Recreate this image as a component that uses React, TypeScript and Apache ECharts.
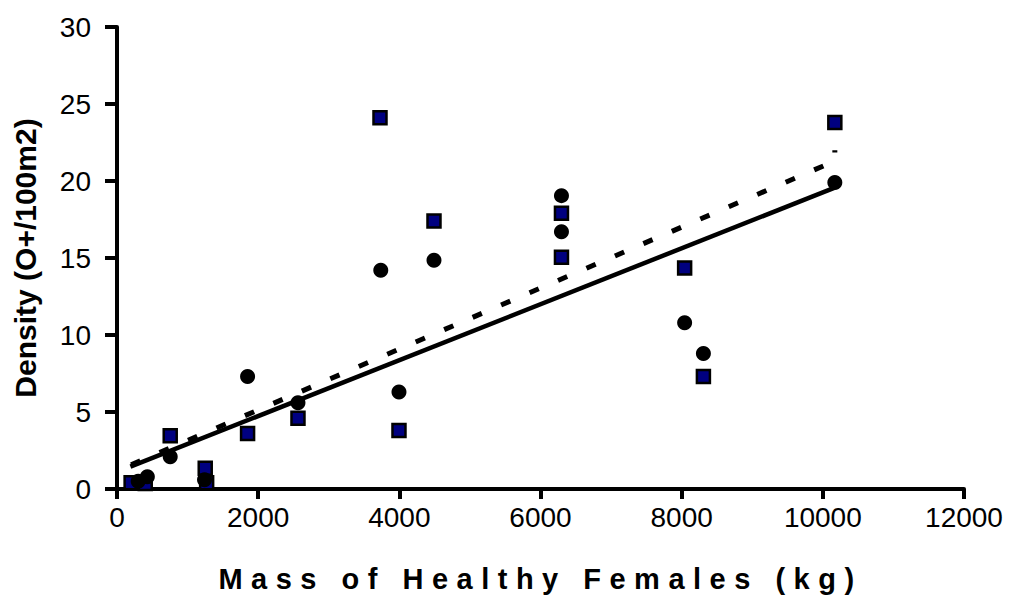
import React, { useEffect, useRef } from "react";
import * as echarts from "echarts";

const circleX = [300, 430, 754, 1240, 1850, 2564, 3737, 3995, 4491, 6297, 6297, 8042, 8308, 10170];
const circleY = [0.5, 0.8, 2.1, 0.6, 7.3, 5.6, 14.2, 6.3, 14.85, 19.05, 16.7, 10.8, 8.8, 19.9];

const squareX = [200, 400, 754, 1250, 1270, 1850, 2564, 3726, 3995, 4491, 6297, 6297, 8042, 8308, 10170];
const squareY = [0.4, 0.35, 3.45, 1.35, 0.4, 3.6, 4.6, 24.1, 3.8, 17.4, 17.9, 15.05, 14.35, 7.3, 23.8];

const solidTrendX = [190, 10170];
const solidTrendY = [1.45, 19.57];

const dashedTrendX = [200, 10170, 10170];
const dashedTrendY = [1.57, 21.3, 22.0];

const xTicks = [0, 2000, 4000, 6000, 8000, 10000, 12000];
const yTicks = [0, 5, 10, 15, 20, 25, 30];

const xName = "Mass of Healthy Females (kg)";
const yName = "Density (O+/100m2)";

const zip = (xs: number[], ys: number[]) => xs.map((x, i) => [x, ys[i]]);

export default function App() {
  const ref = useRef<HTMLDivElement>(null);
  useEffect(() => {
    if (!ref.current) return;
    const chart = echarts.init(ref.current, undefined, { renderer: "svg" });
    const font = "'Liberation Sans', Arial, sans-serif";
    chart.setOption({
      animation: false,
      backgroundColor: "#ffffff",
      grid: {
        left: 117,
        top: 27,
        right: 47,
        bottom: 123,
        containLabel: false,
        outerBoundsMode: "none",
      },
      xAxis: {
        type: "value",
        min: xTicks[0],
        max: xTicks[xTicks.length - 1],
        interval: 2000,
        name: xName,
        nameLocation: "middle",
        nameGap: 75,
        nameTextStyle: { fontFamily: font, fontSize: 29, fontWeight: "bold", color: "#000" },
        axisLine: { show: true, onZero: false, lineStyle: { color: "#000", width: 4 } },
        axisTick: { show: true, inside: false, length: 10, lineStyle: { color: "#000", width: 4 } },
        axisLabel: {
          fontFamily: font,
          fontSize: 28,
          color: "#000",
          margin: 14,
          formatter: (v: number) => String(v),
        },
        splitLine: { show: false },
      },
      yAxis: {
        type: "value",
        min: yTicks[0],
        max: yTicks[yTicks.length - 1],
        interval: 5,
        name: yName,
        nameLocation: "middle",
        nameGap: 77,
        nameRotate: 90,
        nameTextStyle: { fontFamily: font, fontSize: 30, fontWeight: "bold", color: "#000" },
        axisLine: { show: true, onZero: false, lineStyle: { color: "#000", width: 4 } },
        axisTick: { show: true, inside: false, length: 12, lineStyle: { color: "#000", width: 4 } },
        axisLabel: {
          fontFamily: font,
          fontSize: 28,
          color: "#000",
          margin: 26,
          formatter: (v: number) => String(v),
        },
        splitLine: { show: false },
      },
      series: [
        {
          type: "line",
          data: zip(solidTrendX, solidTrendY),
          showSymbol: false,
          symbol: "none",
          lineStyle: { color: "#000", width: 4.5 },
          silent: true,
          z: 3,
        },
        {
          type: "line",
          data: zip(dashedTrendX, dashedTrendY),
          showSymbol: false,
          symbol: "none",
          lineStyle: { color: "#000", width: 5, type: [10, 21], cap: "butt" },
          silent: true,
          z: 3,
        },
        {
          type: "scatter",
          data: zip(squareX, squareY),
          symbol: "rect",
          symbolSize: 13,
          itemStyle: { color: "#000080", borderColor: "#000", borderWidth: 2.5, opacity: 1 },
          z: 4,
        },
        {
          type: "scatter",
          data: zip(circleX, circleY),
          symbol: "circle",
          symbolSize: 15,
          itemStyle: { color: "#000", opacity: 1 },
          z: 5,
        },
      ],
    });
    // widen the x-axis title's letter spacing, as in the reference
    const texts = ref.current.querySelectorAll("text");
    texts.forEach((t) => {
      if (t.textContent === xName) {
        t.setAttribute("letter-spacing", "8.5px");
      }
    });
    return () => chart.dispose();
  }, []);
  return (
    <div
      ref={ref}
      style={{ position: "absolute", left: 0, top: 0, width: 1011, height: 612, background: "#fff" }}
    />
  );
}
